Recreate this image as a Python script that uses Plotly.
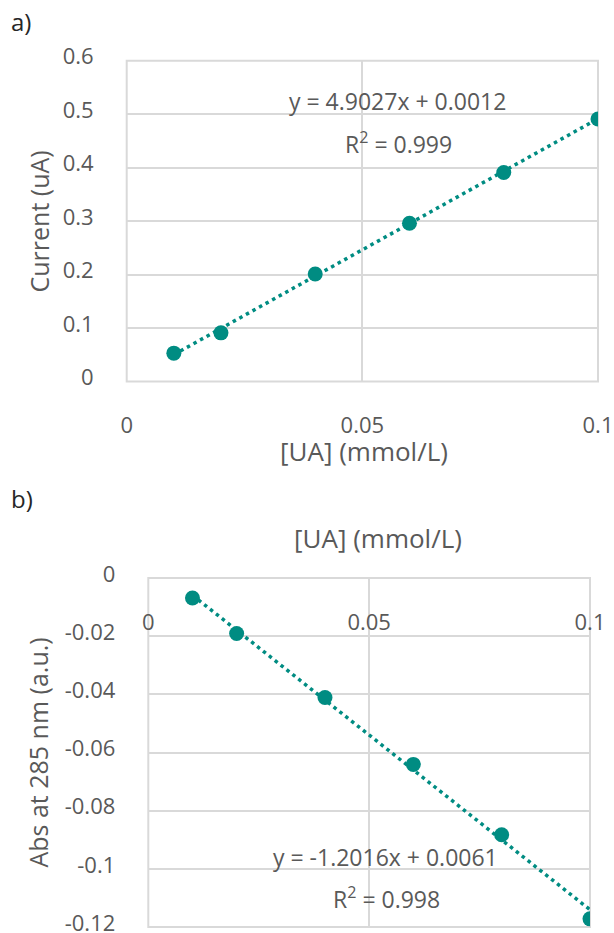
import plotly.graph_objects as go

# ---- data ----
conc = [0.01, 0.02, 0.04, 0.06, 0.08, 0.1]
current_ua = [0.053, 0.091, 0.201, 0.296, 0.391, 0.491]
absorbance = [-0.0069, -0.0191, -0.0411, -0.0641, -0.0883, -0.1172]

fit_a = {"slope": 4.9027, "intercept": 0.0012, "r2": "0.999"}
fit_b = {"slope": -1.2016, "intercept": 0.0061, "r2": "0.998"}

x_tickvals = [0, 0.05, 0.1]
x_ticktext = ["0", "0.05", "0.1"]
ya_tickvals = [0, 0.1, 0.2, 0.3, 0.4, 0.5, 0.6]
ya_ticktext = ["0", "0.1", "0.2", "0.3", "0.4", "0.5", "0.6"]
yb_tickvals = [0, -0.02, -0.04, -0.06, -0.08, -0.1, -0.12]
yb_ticktext = ["0", "-0.02", "-0.04", "-0.06", "-0.08", "-0.1", "-0.12"]

W, H = 614, 933
TEAL = "#008C82"
TXT = "#595959"
GRID = "#D9D9D9"
FONT = "Open Sans"


def px(x):
    return x / W


def py(y):
    return 1 - y / H


trend_x = [conc[0], conc[-1]]
trend_a = [fit_a["slope"] * v + fit_a["intercept"] for v in trend_x]
trend_b = [fit_b["slope"] * v + fit_b["intercept"] for v in trend_x]

fig = go.Figure()
line_style = dict(color=TEAL, width=3.5, dash="3.5px,4px")
mk = dict(color=TEAL, size=15)

fig.add_trace(go.Scatter(x=trend_x, y=trend_a, mode="lines", line=line_style,
                         xaxis="x", yaxis="y", showlegend=False, hoverinfo="skip"))
fig.add_trace(go.Scatter(x=conc, y=current_ua, mode="markers", marker=mk,
                         xaxis="x", yaxis="y", showlegend=False))
fig.add_trace(go.Scatter(x=trend_x, y=trend_b, mode="lines", line=line_style,
                         xaxis="x2", yaxis="y2", showlegend=False, hoverinfo="skip"))
fig.add_trace(go.Scatter(x=conc, y=absorbance, mode="markers", marker=mk,
                         xaxis="x2", yaxis="y2", showlegend=False))

tickfont = dict(family=FONT, size=22, color=TXT)
common_ax = dict(showline=False, zeroline=False, gridcolor=GRID, gridwidth=1.6,
                 ticks="", tickfont=tickfont, fixedrange=True, automargin=False,
                 ticklabeloverflow="allow")

fig.update_layout(
    template="none",
    width=W, height=H,
    margin=dict(l=0, r=0, t=0, b=0),
    paper_bgcolor="white", plot_bgcolor="white",
    font=dict(family=FONT, color=TXT),
    xaxis=dict(domain=[px(126.7), px(598)], anchor="y", range=[0, 0.1],
               tickvals=x_tickvals, ticktext=x_ticktext, ticklabelstandoff=28,
               **common_ax),
    yaxis=dict(domain=[py(381.5), py(60.7)], anchor="x", range=[0, 0.6],
               tickvals=ya_tickvals, ticktext=ya_ticktext, ticklabelstandoff=32,
               ticklabelshift=-4, **common_ax),
    xaxis2=dict(domain=[px(148.3), px(590)], anchor="free", position=py(578),
                side="bottom", range=[0, 0.1],
                tickvals=x_tickvals, ticktext=x_ticktext, ticklabelstandoff=29,
                **common_ax),
    yaxis2=dict(domain=[py(927), py(578)], anchor="x2", range=[-0.12, 0],
                tickvals=yb_tickvals, ticktext=yb_ticktext, ticklabelstandoff=32,
                ticklabelshift=-4, **common_ax),
    shapes=[
        dict(type="rect", xref="x domain", yref="y domain", x0=0, x1=1, y0=0, y1=1,
             line=dict(color=GRID, width=2), layer="below"),
        dict(type="rect", xref="x2 domain", yref="y2 domain", x0=0, x1=1, y0=0, y1=1,
             line=dict(color=GRID, width=2), layer="below"),
    ],
)


def add_text(text, x, y, size=23, angle=0, xanchor="center", color=TXT):
    fig.add_annotation(text=text, x=px(x), y=py(y), xref="paper", yref="paper",
                       showarrow=False, textangle=angle, xanchor=xanchor, yanchor="middle",
                       font=dict(family=FONT, size=size, color=color))


add_text("a)", 9, 22, size=24, xanchor="left", color="#262626")
add_text("b)", 9, 498, size=24, xanchor="left", color="#262626")
add_text("[UA] (mmol/L)", 363.5, 451, size=26)
add_text("[UA] (mmol/L)", 378, 538, size=26)
add_text("Current (uA)", 38, 221.5, size=25, angle=-90)
add_text("Abs at 285 nm (a.u.)", 38, 752.6, size=25, angle=-90)
add_text("y = %.4fx + %.4f" % (fit_a["slope"], fit_a["intercept"]), 397.5, 100.7)
add_text("R<sup>2</sup> = " + fit_a["r2"], 398.5, 143)
add_text("y = %.4fx + %.4f" % (fit_b["slope"], fit_b["intercept"]), 386, 856.7)
add_text("R<sup>2</sup> = " + fit_b["r2"], 387, 898)

fig.write_html(
    "out.html",
    config={"displayModeBar": False, "responsive": False},
    post_script="document.body.style.margin='0';document.body.style.overflow='hidden';",
)
